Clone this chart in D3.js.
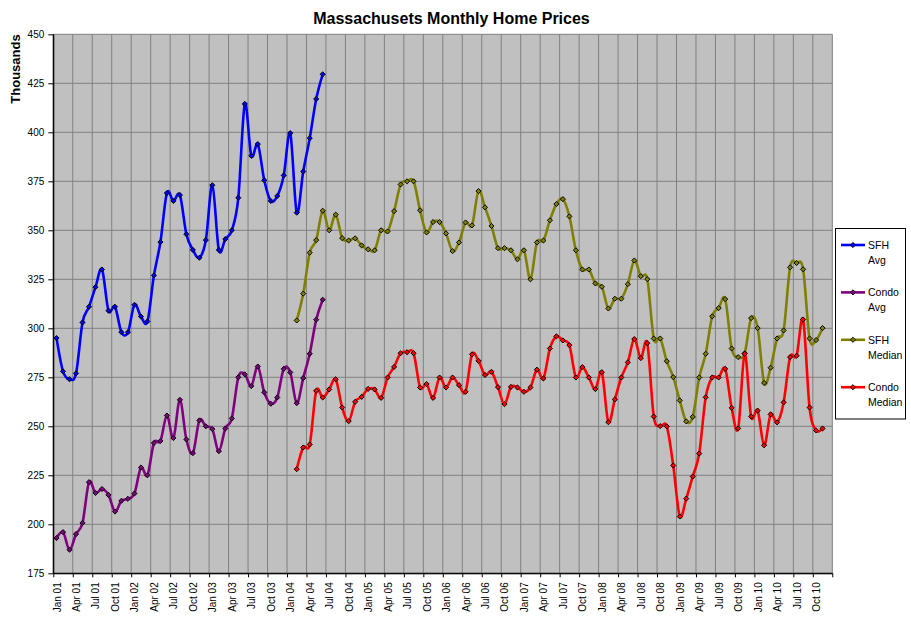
<!DOCTYPE html>
<html>
<head>
<meta charset="utf-8">
<script src="https://cdn.jsdelivr.net/npm/d3@7"></script>
<style>
  body { margin: 0; background: #fff; }
  svg { display: block; font-family: Arial, "Liberation Sans", sans-serif; }
</style>
</head>
<body>
<div id="chart"></div>
<script>
// monthly categories, Jan 2001 .. Dec 2010
const months = d3.timeMonths(new Date(2001, 0, 1), new Date(2011, 0, 1));

const tickLabels = [
  "Jan 01", "Apr 01", "Jul 01", "Oct 01", "Jan 02", "Apr 02", "Jul 02", "Oct 02",
  "Jan 03", "Apr 03", "Jul 03", "Oct 03", "Jan 04", "Apr 04", "Jul 04", "Oct 04",
  "Jan 05", "Apr 05", "Jul 05", "Oct 05", "Jan 06", "Apr 06", "Jul 06", "Oct 06",
  "Jan 07", "Apr 07", "Jul 07", "Oct 07", "Jan 08", "Apr 08", "Jul 08", "Oct 08",
  "Jan 09", "Apr 09", "Jul 09", "Oct 09", "Jan 10", "Apr 10", "Jul 10", "Oct 10"
];

const yTicks = [175, 200, 225, 250, 275, 300, 325, 350, 375, 400, 425, 450];

// averages run Jan 01 - Jun 04
const avgStart = 0;
const sfhAvg = [
  295, 278, 274, 277, 303, 311, 321, 330, 309, 311, 298, 298,
  312, 306, 303.5, 327, 344, 369, 365, 368, 348, 340, 336, 345,
  373, 340, 345.5, 350, 366.6, 414.5, 388, 394, 375.5, 365, 367.5, 378,
  399.6, 359, 380, 397, 417, 429.6
];
const condoAvg = [
  193, 196, 187, 195, 200.7, 221.5, 216, 218, 215, 206.5, 212, 213,
  215.7, 229, 225, 241.5, 242.5, 255.5, 244, 263.5, 243.3, 236.3, 253, 250,
  248.6, 237.3, 248.9, 254, 275, 276.5, 270.5, 280.5, 267.3, 261.5, 264.7, 279.3,
  277.5, 261.8, 274.6, 287, 304.4, 314.6
];

// medians run Feb 04 - Nov 10
const medStart = 37;
const sfhMedian = [
  304, 317.7, 338.6, 345, 360, 350, 358, 346, 344.8, 345.9, 342.3,
  340.3, 339.8, 350, 349.4, 359.8, 373.4, 375, 375, 360.2, 348.9, 354.2, 354.2,
  348.4, 339.4, 343.8, 354, 352.5, 370, 361.7, 352.2, 340.9, 340.9, 339.8, 335.2,
  339.8, 325, 343.8, 344.8, 355.1, 363.4, 365.9, 357.1, 339.8, 330, 330, 322.9,
  321.2, 310.1, 315.1, 315.1, 322.5, 334.6, 326.6, 325.1, 294.8, 294.8, 283.2, 275.1,
  263.2, 252.5, 254.8, 274.9, 287, 306.1, 310.3, 314.9, 289.7, 285.3, 287.2, 305.2,
  300.1, 272.1, 279.9, 294.8, 298.9, 331.1, 333.3, 330.1, 294.8, 294, 300.1
];
const condoMedian = [
  228.1, 239.2, 240.7, 268.1, 264.7, 268.8, 274, 259.6, 252.6, 262.5, 265,
  269.1, 268.8, 264.5, 274.9, 280.3, 287.3, 287.8, 287.3, 269.8, 271.6, 264.5, 274.9,
  269.8, 274.9, 271, 267.6, 286.7, 283.4, 276.2, 277.8, 270, 261.3, 270.1, 269.8,
  267.6, 269.8, 278.9, 274.4, 289.7, 295.9, 293.8, 291.4, 274.9, 280.2, 274.9, 269,
  277.6, 252.1, 263.7, 274.9, 282.6, 294.5, 284.8, 292.4, 255, 250.1, 250, 230,
  204, 213.1, 224.4, 236.1, 264.8, 274.9, 274.9, 279.3, 259.4, 248.9, 287, 255,
  258, 240.3, 256.1, 252, 262.2, 285.3, 286, 304.5, 259.6, 247.9, 248.9
];

const series = [
  { name: ["SFH", "Avg"], color: "#0000ff", start: avgStart, values: sfhAvg },
  { name: ["Condo", "Avg"], color: "#800080", start: avgStart, values: condoAvg },
  { name: ["SFH", "Median"], color: "#808000", start: medStart, values: sfhMedian },
  { name: ["Condo", "Median"], color: "#ff0000", start: medStart, values: condoMedian }
];

const width = 911, height = 623;
const margin = { top: 34.3, right: 78.7, bottom: 49.7, left: 53.3 };
const plotW = width - margin.left - margin.right;
const plotH = height - margin.top - margin.bottom;

const svg = d3.select("#chart").append("svg")
  .attr("width", width)
  .attr("height", height);

// index scale: each month is one category, points sit in the middle
const x = d3.scaleLinear().domain([0, months.length]).range([0, plotW]);
const y = d3.scaleLinear().domain([175, 450]).range([plotH, 0]);

const g = svg.append("g").attr("transform", `translate(${margin.left},${margin.top})`);

g.append("rect")
  .attr("width", plotW)
  .attr("height", plotH)
  .attr("fill", "#c0c0c0");

//gridlines
const quarterBounds = d3.range(0, months.length + 1, 3);
g.append("g")
  .selectAll("line")
  .data(quarterBounds)
  .join("line")
  .attr("x1", d => x(d)).attr("x2", d => x(d))
  .attr("y1", 0).attr("y2", plotH)
  .attr("stroke", "#808080")
  .attr("stroke-width", 1);

g.append("g")
  .selectAll("line")
  .data(yTicks)
  .join("line")
  .attr("x1", 0).attr("x2", plotW)
  .attr("y1", d => y(d)).attr("y2", d => y(d))
  .attr("stroke", "#808080")
  .attr("stroke-width", 1);

//axes
const yAxis = g.append("g")
  .call(d3.axisLeft(y).tickValues(yTicks).tickSize(5).tickSizeOuter(0).tickPadding(4));
yAxis.selectAll("text").attr("font-size", 10).attr("fill", "#000").attr("font-family", null);
yAxis.selectAll("line, path").attr("stroke", "#000");

const xMarks = g.append("g")
  .attr("transform", `translate(0,${plotH})`)
  .call(d3.axisBottom(x).tickValues(quarterBounds).tickSize(4).tickSizeOuter(0).tickFormat(""));
xMarks.selectAll("line, path").attr("stroke", "#000");

const xLabels = g.append("g")
  .attr("transform", `translate(0,${plotH})`)
  .call(d3.axisBottom(x)
    .tickValues(d3.range(0, months.length, 3).map(i => i + 0.5))
    .tickSize(0)
    .tickFormat((d, i) => tickLabels[i]));
xLabels.select(".domain").remove();
xLabels.selectAll("text")
  .attr("font-size", 10)
  .attr("font-family", null)
  .attr("fill", "#000")
  .attr("text-anchor", "end")
  .attr("transform", "rotate(-90)")
  .attr("x", -9)
  .attr("y", 0)
  .attr("dy", "0.35em");

//series
const line = d3.line()
  .x(d => x(d.i + 0.5))
  .y(d => y(d.v))
  .curve(d3.curveCardinal.tension(0));

const marker = d3.symbol().type(d3.symbolSquare).size(13);

series.forEach(s => {
  const pts = s.values.map((v, k) => ({ i: s.start + k, v }));
  g.append("path")
    .datum(pts)
    .attr("fill", "none")
    .attr("stroke", s.color)
    .attr("stroke-width", 2.6)
    .attr("d", line);
  g.append("g")
    .selectAll("path")
    .data(pts)
    .join("path")
    .attr("d", marker)
    .attr("transform", d => `translate(${x(d.i + 0.5)},${y(d.v)}) rotate(45)`)
    .attr("fill", s.color)
    .attr("stroke", "#000")
    .attr("stroke-width", 0.9);
});

// left and bottom axis lines drawn on top
g.append("line").attr("x1", 0).attr("x2", 0).attr("y1", 0).attr("y2", plotH).attr("stroke", "#000");
g.append("line").attr("x1", 0).attr("x2", plotW).attr("y1", plotH).attr("y2", plotH).attr("stroke", "#000");

//title and y label
svg.append("text")
  .attr("x", 451.5)
  .attr("y", 24)
  .attr("text-anchor", "middle")
  .attr("font-size", 16)
  .attr("font-weight", "bold")
  .text("Massachusets Monthly Home Prices");

svg.append("text")
  .attr("transform", "translate(20,69) rotate(-90)")
  .attr("text-anchor", "middle")
  .attr("font-size", 13)
  .attr("font-weight", "bold")
  .text("Thousands");

//legend
const legend = svg.append("g").attr("transform", "translate(835.5,228.5)");
legend.append("rect")
  .attr("width", 70)
  .attr("height", 190.5)
  .attr("fill", "#fff")
  .attr("stroke", "#000")
  .attr("stroke-width", 1);

series.forEach((s, k) => {
  const row = legend.append("g").attr("transform", `translate(0,${16.5 + k * 47.4})`);
  row.append("line")
    .attr("x1", 5.5).attr("x2", 29.5)
    .attr("stroke", s.color)
    .attr("stroke-width", 2.6);
  row.append("path")
    .attr("d", marker)
    .attr("transform", "translate(17.5,0) rotate(45)")
    .attr("fill", s.color)
    .attr("stroke", "#000")
    .attr("stroke-width", 0.9);
  row.append("text")
    .attr("x", 32.5)
    .attr("y", 4)
    .attr("font-size", 10.5)
    .text(s.name[0]);
  row.append("text")
    .attr("x", 32.5)
    .attr("y", 19)
    .attr("font-size", 10.5)
    .text(s.name[1]);
});
</script>
</body>
</html>
